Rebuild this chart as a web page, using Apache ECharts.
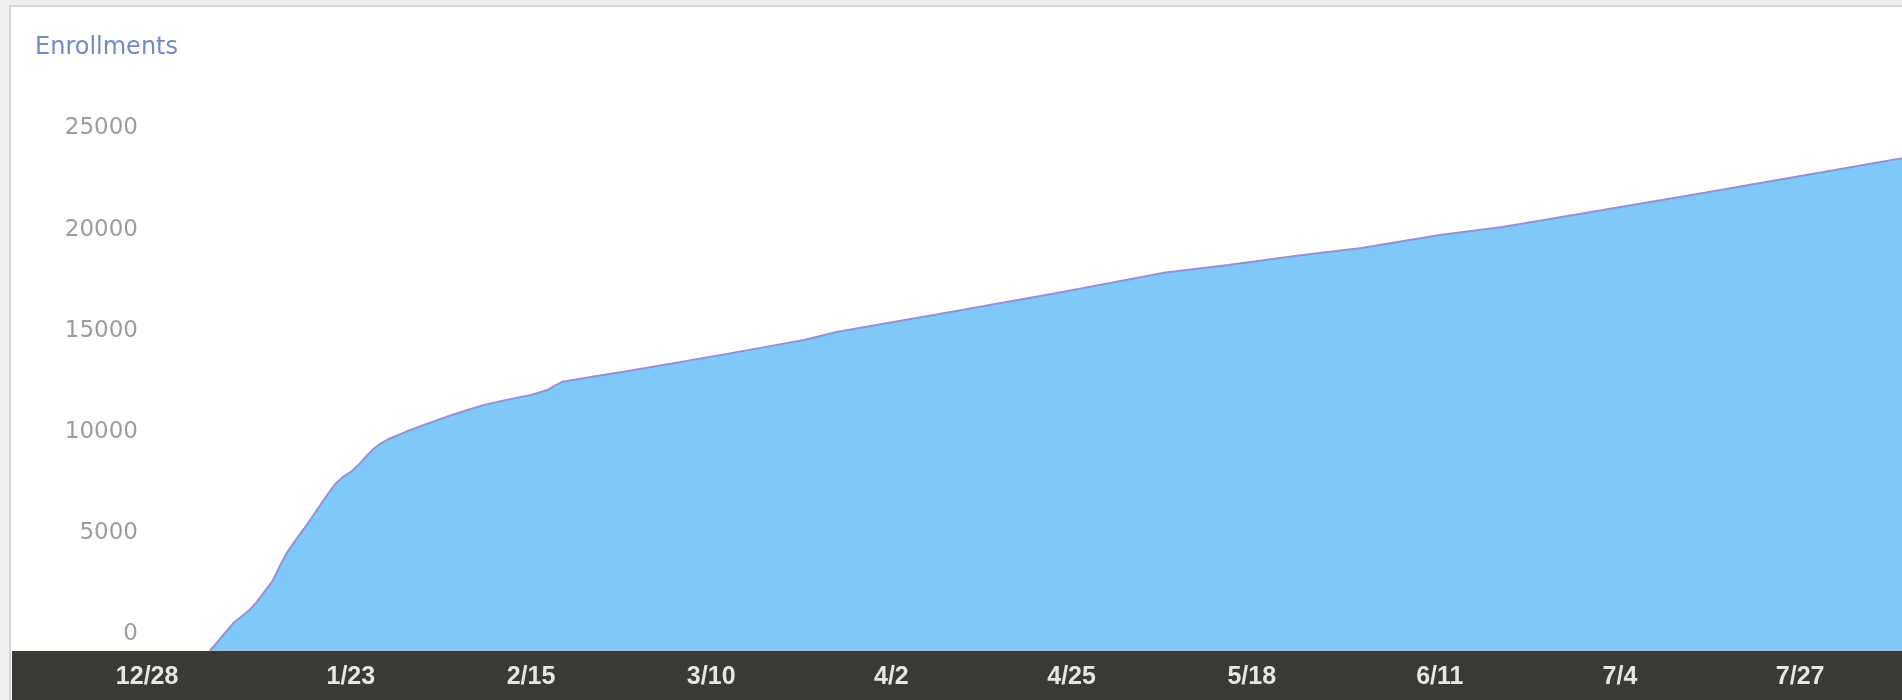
<!DOCTYPE html>
<html>
   <head>
      <meta charset="utf-8">
      <script type="text/javascript" src="https://cdn.jsdelivr.net/npm/echarts@6.0.0/dist/echarts.min.js"></script>
      <title>Enrollments</title>
      <style>
         html, body { margin: 0; padding: 0; background: #efefef; }
      </style>
   </head>
   <body>
      <div id="chart" style="width:1902px;height:700px"></div>
      <script type="text/javascript">
         // cumulative enrollments
         var dates = [
            "2014-01-05", "2014-01-08", "2014-01-10", "2014-01-11", "2014-01-13", "2014-01-14",
            "2014-01-15", "2014-01-16", "2014-01-17", "2014-01-18", "2014-01-19", "2014-01-20",
            "2014-01-21", "2014-01-22", "2014-01-23", "2014-01-24", "2014-01-25", "2014-01-26",
            "2014-01-27", "2014-01-28", "2014-01-30", "2014-02-01", "2014-02-03", "2014-02-05",
            "2014-02-07", "2014-02-09", "2014-02-12", "2014-02-15", "2014-02-17", "2014-02-18",
            "2014-02-19", "2014-02-23", "2014-02-27", "2014-03-05", "2014-03-12", "2014-03-18",
            "2014-03-22", "2014-03-26", "2014-04-01", "2014-04-11", "2014-04-24", "2014-05-07",
            "2014-05-15", "2014-05-24", "2014-06-01", "2014-06-11", "2014-06-19", "2014-07-15",
            "2014-08-09"
         ];
         var enrollments = [
            0, 1380, 2000, 2430, 3450, 4250,
            4950, 5500, 6030, 6580, 7150, 7720,
            8250, 8600, 8850, 9200, 9640, 10020,
            10300, 10500, 10830, 11120, 11400, 11670,
            11920, 12160, 12420, 12650, 12880, 13100,
            13300, 13560, 13810, 14200, 14680, 15100,
            15380, 15760, 16170, 16850, 17750, 18700,
            19070, 19540, 19910, 20550, 20950, 22650,
            24350
         ];
         var tickDates = ["2013-12-28", "2014-01-23", "2014-02-15", "2014-03-10", "2014-04-02",
                          "2014-04-25", "2014-05-18", "2014-06-11", "2014-07-04", "2014-07-27"];
         var tickLabels = ["12/28", "1/23", "2/15", "3/10", "4/2", "4/25", "5/18", "6/11", "7/4", "7/27"];

         var startDate = "2013-12-28";
         function day_of(s){
            var p = s.split("-"), q = startDate.split("-");
            var a = Date.UTC(+p[0], +p[1] - 1, +p[2]);
            var b = Date.UTC(+q[0], +q[1] - 1, +q[2]);
            return Math.round((a - b) / 86400000);
         }
         var points = [];
         for (var i = 0; i < dates.length; ++i){
            points.push([day_of(dates[i]), enrollments[i]]);
         }
         var tickDays = tickDates.map(day_of);

         var option = {
            backgroundColor: "#efefef",
            animation: false,
            title: {
               text: "Enrollments",
               left: 35,
               top: 36,
               padding: 0,
               textStyle: {fontFamily: "DejaVu Sans", fontSize: 24, fontWeight: "normal", color: "#6f8cc4"}
            },
            graphic: [
               {type: "rect", z: 0, shape: {x: 10, y: 6, width: 1940, height: 740},
                style: {fill: "#ffffff", stroke: "#d6d6d6", lineWidth: 2}},
               {type: "rect", z: 0, shape: {x: 12, y: 651, width: 1890, height: 49},
                style: {fill: "#3a3936"}}
            ],
            grid: {left: 12, right: 0, top: 145, bottom: 49},
            xAxis: {
               type: "value",
               min: -17.25,
               max: 224,
               z: 5,
               splitLine: {show: false},
               axisLine: {show: false},
               axisTick: {show: false},
               axisLabel: {
                  customValues: tickDays,
                  margin: 26,
                  verticalAlign: "middle",
                  fontFamily: "Liberation Sans",
                  fontWeight: "bold",
                  fontSize: 25,
                  color: "#e6e6e6",
                  formatter: function(v){
                     var k = tickDays.indexOf(Math.round(v));
                     return k < 0 ? "" : tickLabels[k];
                  }
               }
            },
            yAxis: {
               type: "value",
               min: 0,
               max: 25000,
               interval: 5000,
               z: 5,
               splitLine: {show: false},
               axisLine: {show: false},
               axisTick: {show: false},
               axisLabel: {
                  inside: true,
                  align: "right",
                  margin: 126,
                  verticalAlign: "bottom",
                  padding: [0, 0, 5, 0],
                  fontFamily: "DejaVu Sans",
                  fontSize: 23,
                  color: "#9c9c9c",
                  formatter: function(v){ return String(v); }
               }
            },
            series: [
               {
                  type: "line",
                  z: 2,
                  data: points,
                  showSymbol: false,
                  smooth: false,
                  lineStyle: {color: "#a48dbf", width: 2},
                  areaStyle: {color: "#80c8fa", opacity: 1}
               }
            ]
         };
         var myChart = echarts.init(document.getElementById("chart"));
         myChart.setOption(option);
      </script>
   </body>
</html>
